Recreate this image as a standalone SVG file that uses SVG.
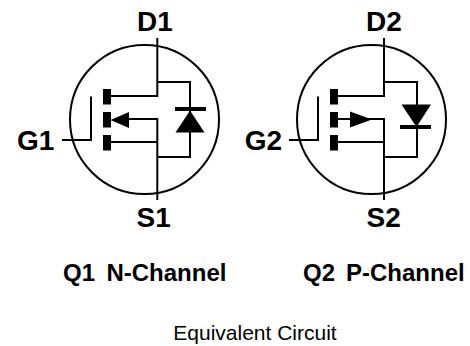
<svg xmlns="http://www.w3.org/2000/svg" width="470" height="346" viewBox="0 0 470 346">
<style>
.w{fill:none;stroke:#000;stroke-width:2}
.f{fill:#000;stroke:none}
.l{font-family:"Liberation Sans",Arial,sans-serif;font-weight:bold;fill:#000}
.t{font-size:28px}
.c{font-size:24px}
.e{font-family:"Liberation Sans",Arial,sans-serif;font-size:21px;fill:#000}
</style>
<rect width="470" height="346" fill="#fff"/>
<g id="connectors">
<circle class="w" cx="144.500" cy="119.500" r="74.500"/>
<path class="w" d="M157.300 38V96H110M110 142H157.300M157.300 200V119H127M62 140H91V96.500M157.300 82H190V157H157.300"/>
<circle class="w" cx="371.500" cy="119.500" r="74.500"/>
<path class="w" d="M384 38V96H337M337 142H384M384 200V119H337M289 140H318V96.500M384 82H417V157H384"/>
</g>
<g id="q1">
<rect class="f" x="103" y="89" width="8" height="15.500"/>
<rect class="f" x="103" y="112" width="8" height="15.500"/>
<rect class="f" x="103" y="135" width="8" height="15.500"/>
<path class="f" d="M110.500 120L129 112V128Z"/>
<rect class="f" x="175" y="107" width="31" height="4"/>
<path class="f" d="M190 110.500L204.500 132.500H175.500Z"/>
</g>
<g id="q2">
<rect class="f" x="330" y="89" width="8" height="15.500"/>
<rect class="f" x="330" y="112" width="8" height="15.500"/>
<rect class="f" x="330" y="135" width="8" height="15.500"/>
<path class="f" d="M372 119.500L350 111.500V127.500Z"/>
<rect class="f" x="400" y="125" width="31" height="4"/>
<path class="f" d="M416.500 127L401.500 104.500H431Z"/>
</g>
<g id="labels">
<text class="l t" x="137" y="31">D1</text>
<text class="l t" x="17" y="149.500">G1</text>
<text class="l t" x="136.500" y="227">S1</text>
<text class="l t" x="366" y="31">D2</text>
<text class="l t" x="244.800" y="149.500">G2</text>
<text class="l t" x="366.600" y="227">S2</text>
<text class="l c" y="281"><tspan x="63">Q1</tspan> <tspan x="106.400">N-Channel</tspan></text>
<text class="l c" y="281"><tspan x="303">Q2</tspan> <tspan x="346">P-Channel</tspan></text>
<text class="e" x="173.300" y="339.500">Equivalent Circuit</text>
</g>
</svg>
